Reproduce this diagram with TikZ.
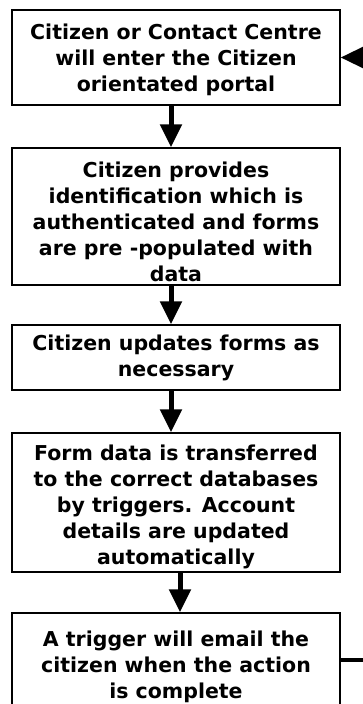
\documentclass[tikz,border=0pt]{standalone}
\usepackage{fontspec}
\setmainfont{DejaVu Sans}
\usetikzlibrary{arrows.meta}
\begin{document}
\begin{tikzpicture}[x=1pt,y=-1pt,
  stepbox/.style={draw=black, line width=1.3pt, minimum width=328pt,
    inner sep=0pt},
  steptext/.style={inner sep=0pt, align=center,
    font=\fontsize{20.5}{26}\selectfont\bfseries},
  flow/.style={line width=5pt,
    -{Triangle[width=21pt,length=23pt]}},
  back/.style={line width=4pt,
    -{Triangle[width=21pt,length=23pt]}}]
  \useasboundingbox (0,0) rectangle (363,704);
  \clip (0,0) rectangle (363,704);

  % process steps: frames
  \node[stepbox, minimum height=95pt]  (s1) at (176,57.5) {};
  \node[stepbox, minimum height=137pt] (s2) at (176,216.5) {};
  \node[stepbox, minimum height=65pt]  (s3) at (176,357.5) {};
  \node[stepbox, minimum height=139pt] (s4) at (176,502.5) {};
  \node[stepbox, minimum height=94pt]  (s5) at (176,660) {};

  % process steps: wording
  \node[steptext] (t1) at (176,59.5)
    {Citizen or Contact Centre\\will enter the Citizen\\orientated portal};
  \node[steptext] (t2) at (176,221.5)
    {Citizen provides\\identification which is\\authenticated and forms\\are pre -populated with\\data};
  \node[steptext] (t3) at (176,357.5)
    {Citizen updates forms as\\necessary};
  \node[steptext] (t4) at (176,507)
    {Form data is transferred\\to the correct databases\\by triggers. Account\\details are updated\\automatically};
  \node[steptext] (t5) at (176,667)
    {A trigger will email the\\citizen when the action\\is complete};

  % connector columns
  \coordinate (ca) at (171,0);
  \coordinate (cb) at (180,0);
  \coordinate (rx) at (370,0);

  \draw[flow] (s1.south -| ca) -- (s2.north -| ca);
  \draw[flow] (s2.south -| ca) -- (s3.north -| ca);
  \draw[flow] (s3.south -| ca) -- (s4.north -| ca);
  \draw[flow] (s4.south -| cb) -- (s5.north -| cb);

  % loop back to the portal
  \draw[back] (s5.east) -- (s5.east -| rx) -- (s1.east -| rx) -- (s1.east);
\end{tikzpicture}
\end{document}
